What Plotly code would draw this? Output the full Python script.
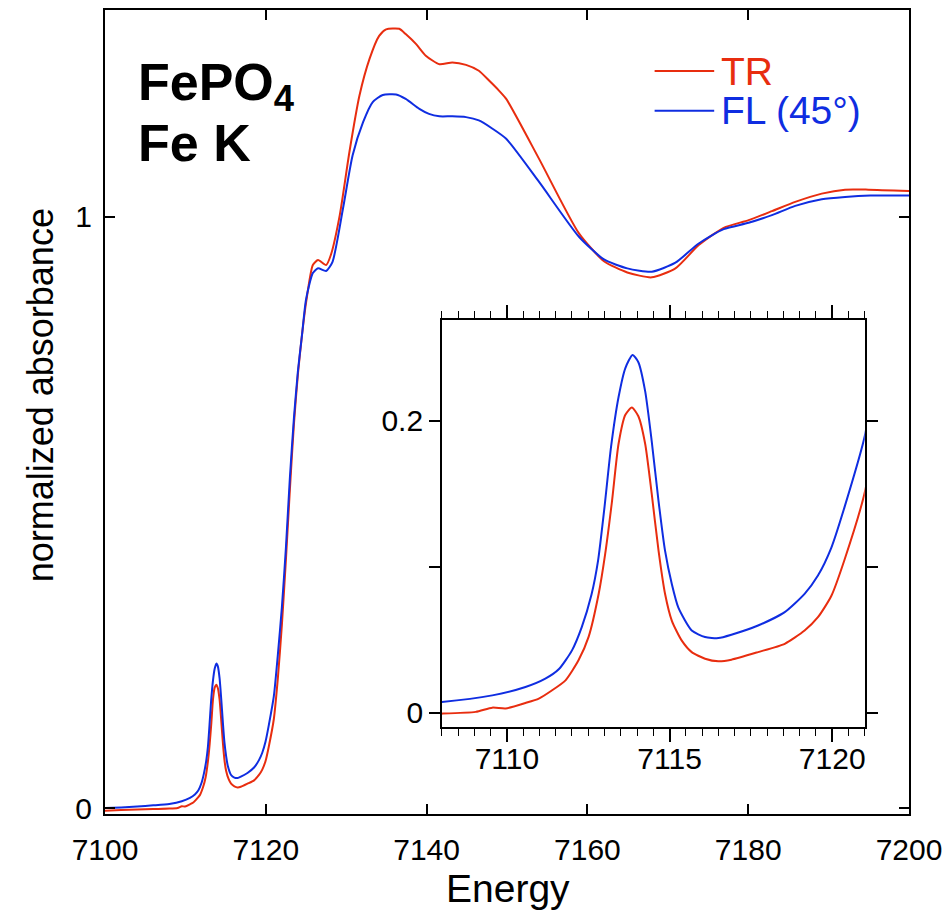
import plotly.graph_objects as go

# ---- data ----
tr_energy = [7100.0, 7102.0, 7104.0, 7106.0, 7108.0, 7109.04, 7109.55, 7109.96, 7110.57, 7110.98,
             7111.39, 7111.8, 7112.2, 7112.51, 7112.82, 7113.02, 7113.23, 7113.43, 7113.64, 7113.84,
             7114.04, 7114.25, 7114.45, 7114.66, 7114.86, 7115.07, 7115.37, 7115.68, 7116.09, 7116.5,
             7116.9, 7117.72, 7118.54, 7119.15, 7119.56, 7119.97, 7120.38, 7121.0, 7121.5, 7122.0,
             7122.5, 7123.0, 7123.5, 7124.0, 7124.5, 7125.03, 7125.85, 7126.5, 7127.5, 7128.1,
             7129.2, 7130.4, 7131.65, 7132.9, 7134.1, 7134.96, 7136.6, 7137.4, 7138.7, 7139.9,
             7141.6, 7143.2, 7144.9, 7146.5, 7147.8, 7149.0, 7149.9, 7153.99, 7158.95, 7162.06,
             7164.96, 7168.0, 7170.95, 7173.85, 7176.95, 7180.05, 7182.95, 7185.85, 7189.15, 7192.05,
             7194.95, 7200.0]
tr_abs = [-0.004, -0.003, -0.002, -0.0012, -0.0005, 0.0007, 0.0036, 0.003, 0.0068, 0.0098,
          0.0155, 0.0223, 0.036, 0.052, 0.0815, 0.1088, 0.145, 0.184, 0.204, 0.209,
          0.203, 0.184, 0.150, 0.111, 0.0815, 0.063, 0.0496, 0.0416, 0.0371, 0.0353,
          0.0364, 0.0416, 0.0473, 0.0564, 0.0655, 0.0800, 0.1050, 0.151, 0.22, 0.31,
          0.42, 0.54, 0.65, 0.735, 0.80, 0.857, 0.9186, 0.927, 0.9186, 0.936,
          1.003, 1.1096, 1.205, 1.267, 1.306, 1.317, 1.318, 1.309, 1.292, 1.2725,
          1.258, 1.261, 1.257, 1.247, 1.230, 1.2135, 1.1994, 1.098, 0.972, 0.925,
          0.906, 0.8977, 0.9129, 0.9523, 0.9815, 0.9944, 1.0096, 1.0253, 1.0393, 1.046,
          1.046, 1.0438]

fl_energy = [7100.0, 7102.0, 7104.0, 7106.0, 7108.0, 7109.55, 7110.57, 7111.18, 7111.6, 7112.0,
             7112.3, 7112.6, 7112.8, 7113.0, 7113.2, 7113.43, 7113.64, 7113.86, 7114.04, 7114.25,
             7114.45, 7114.66, 7114.86, 7115.07, 7115.27, 7115.68, 7116.09, 7116.5, 7116.9, 7117.72,
             7118.54, 7119.15, 7119.56, 7119.97, 7120.38, 7121.0, 7121.5, 7122.0, 7122.5, 7123.0,
             7123.5, 7124.0, 7124.5, 7125.0, 7125.85, 7126.5, 7127.5, 7128.3, 7129.6, 7130.8,
             7132.1, 7133.3, 7134.55, 7136.2, 7137.4, 7139.1, 7140.3, 7141.6, 7143.2, 7144.9,
             7146.5, 7148.2, 7149.9, 7153.99, 7158.95, 7162.06, 7164.96, 7168.0, 7170.95, 7173.85,
             7176.95, 7180.05, 7182.95, 7185.85, 7189.15, 7192.05, 7195.2, 7200.0]
fl_abs = [0.0005, 0.0015, 0.003, 0.005, 0.0075, 0.012, 0.0177, 0.0234, 0.030, 0.0428,
          0.0587, 0.081, 0.104, 0.141, 0.182, 0.216, 0.236, 0.245, 0.240, 0.220,
          0.186, 0.145, 0.111, 0.088, 0.072, 0.0564, 0.0519, 0.0512, 0.0535, 0.0598,
          0.069, 0.0815, 0.094, 0.113, 0.141, 0.1895, 0.26, 0.34, 0.44, 0.56,
          0.66, 0.74, 0.80, 0.86, 0.905, 0.913, 0.9085, 0.924, 1.014, 1.104,
          1.160, 1.194, 1.206, 1.207, 1.1994, 1.1826, 1.174, 1.170, 1.170, 1.1686,
          1.163, 1.149, 1.132, 1.059, 0.9663, 0.928, 0.9129, 0.9073, 0.9225, 0.955,
          0.9792, 0.9899, 1.0029, 1.0185, 1.0298, 1.0337, 1.036, 1.036]

main_xticks = [7100, 7120, 7140, 7160, 7180, 7200]
main_yticks = [0, 1]
inset_xticks = [7110, 7115, 7120]
inset_yticks = [0, 0.2]

RED = "rgb(232,45,15)"
BLUE = "rgb(15,45,225)"
FONT = "Liberation Sans, Arial, Helvetica, sans-serif"

fig = go.Figure()
for xa, ya in (("x", "y"), ("x2", "y2")):
    fig.add_trace(go.Scatter(x=tr_energy, y=tr_abs, mode="lines",
                             line=dict(color=RED, width=2, shape="spline", smoothing=0.6),
                             xaxis=xa, yaxis=ya, showlegend=False, name="TR"))
    fig.add_trace(go.Scatter(x=fl_energy, y=fl_abs, mode="lines",
                             line=dict(color=BLUE, width=2, shape="spline", smoothing=0.6),
                             xaxis=xa, yaxis=ya, showlegend=False, name="FL (45°)"))

fig.update_layout(
    width=950, height=913,
    margin=dict(l=105, r=39, t=8, b=99),
    paper_bgcolor="white", plot_bgcolor="white",
    font=dict(family=FONT, color="black", size=30),
    xaxis=dict(range=[7100, 7200], domain=[0, 1], tickvals=main_xticks, ticks="inside", ticklen=10, tickwidth=1.5,
               tickcolor="black", showline=True, linecolor="black", linewidth=2, mirror="ticks",
               showgrid=False, zeroline=False, tickfont=dict(size=30), ticklabelstandoff=8),
    yaxis=dict(range=[-0.0096, 1.3497], domain=[0, 1], tickvals=main_yticks, ticks="inside", ticklen=10, tickwidth=1.5,
               tickcolor="black", showline=True, linecolor="black", linewidth=2, mirror="ticks",
               showgrid=False, zeroline=False, tickfont=dict(size=30), ticklabelstandoff=5),
    xaxis2=dict(range=[7108.0, 7121.0], domain=[0.419, 0.945], anchor="y2", tickvals=inset_xticks,
                ticks="outside", ticklen=13, tickwidth=1.5, tickcolor="black",
                minor=dict(dtick=0.5, tick0=7108, ticks="outside", ticklen=7, tickwidth=1.2, tickcolor="black",
                           showgrid=False),
                showline=True, linecolor="black", linewidth=1.5, mirror="allticks",
                showgrid=False, zeroline=False, tickfont=dict(size=30), ticklabelstandoff=-9),
    yaxis2=dict(range=[-0.0096, 0.2692], domain=[0.1083, 0.615], anchor="x2", tickvals=inset_yticks,
                ticks="outside", ticklen=11, tickwidth=1.5, tickcolor="black",
                minor=dict(dtick=0.1, tick0=0, ticks="outside", ticklen=11, tickwidth=1.5, tickcolor="black",
                           showgrid=False),
                showline=True, linecolor="black", linewidth=1.5, mirror="allticks",
                showgrid=False, zeroline=False, tickfont=dict(size=30), ticklabelstandoff=0),
)

ann = [
    dict(text="normalized absorbance", x=-0.0806, y=0.521, textangle=-90, font=dict(size=36)),
    dict(text="Energy", x=0.501, y=-0.093, font=dict(size=39)),
    dict(text="<b>FePO<sub>4</sub></b>", x=0.0385, y=0.905, xanchor="left", font=dict(size=52)),
    dict(text="<b>Fe K</b>", x=0.0385, y=0.834, xanchor="left", font=dict(size=52)),
    dict(text="TR", x=0.7643, y=0.9231, xanchor="left", font=dict(size=39, color=RED)),
    dict(text="FL (45°)", x=0.7643, y=0.8753, xanchor="left", font=dict(size=39, color=BLUE)),
]
for a in ann:
    base = dict(xref="paper", yref="paper", showarrow=False, xanchor="center", yanchor="middle")
    base.update(a)
    fig.add_annotation(**base)

fig.add_shape(type="line", xref="paper", yref="paper", x0=0.6836, x1=0.7577, y0=0.924, y1=0.924,
              line=dict(color=RED, width=2))
fig.add_shape(type="line", xref="paper", yref="paper", x0=0.6836, x1=0.7577, y0=0.8747, y1=0.8747,
              line=dict(color=BLUE, width=2))

fig.write_html("out.html")
